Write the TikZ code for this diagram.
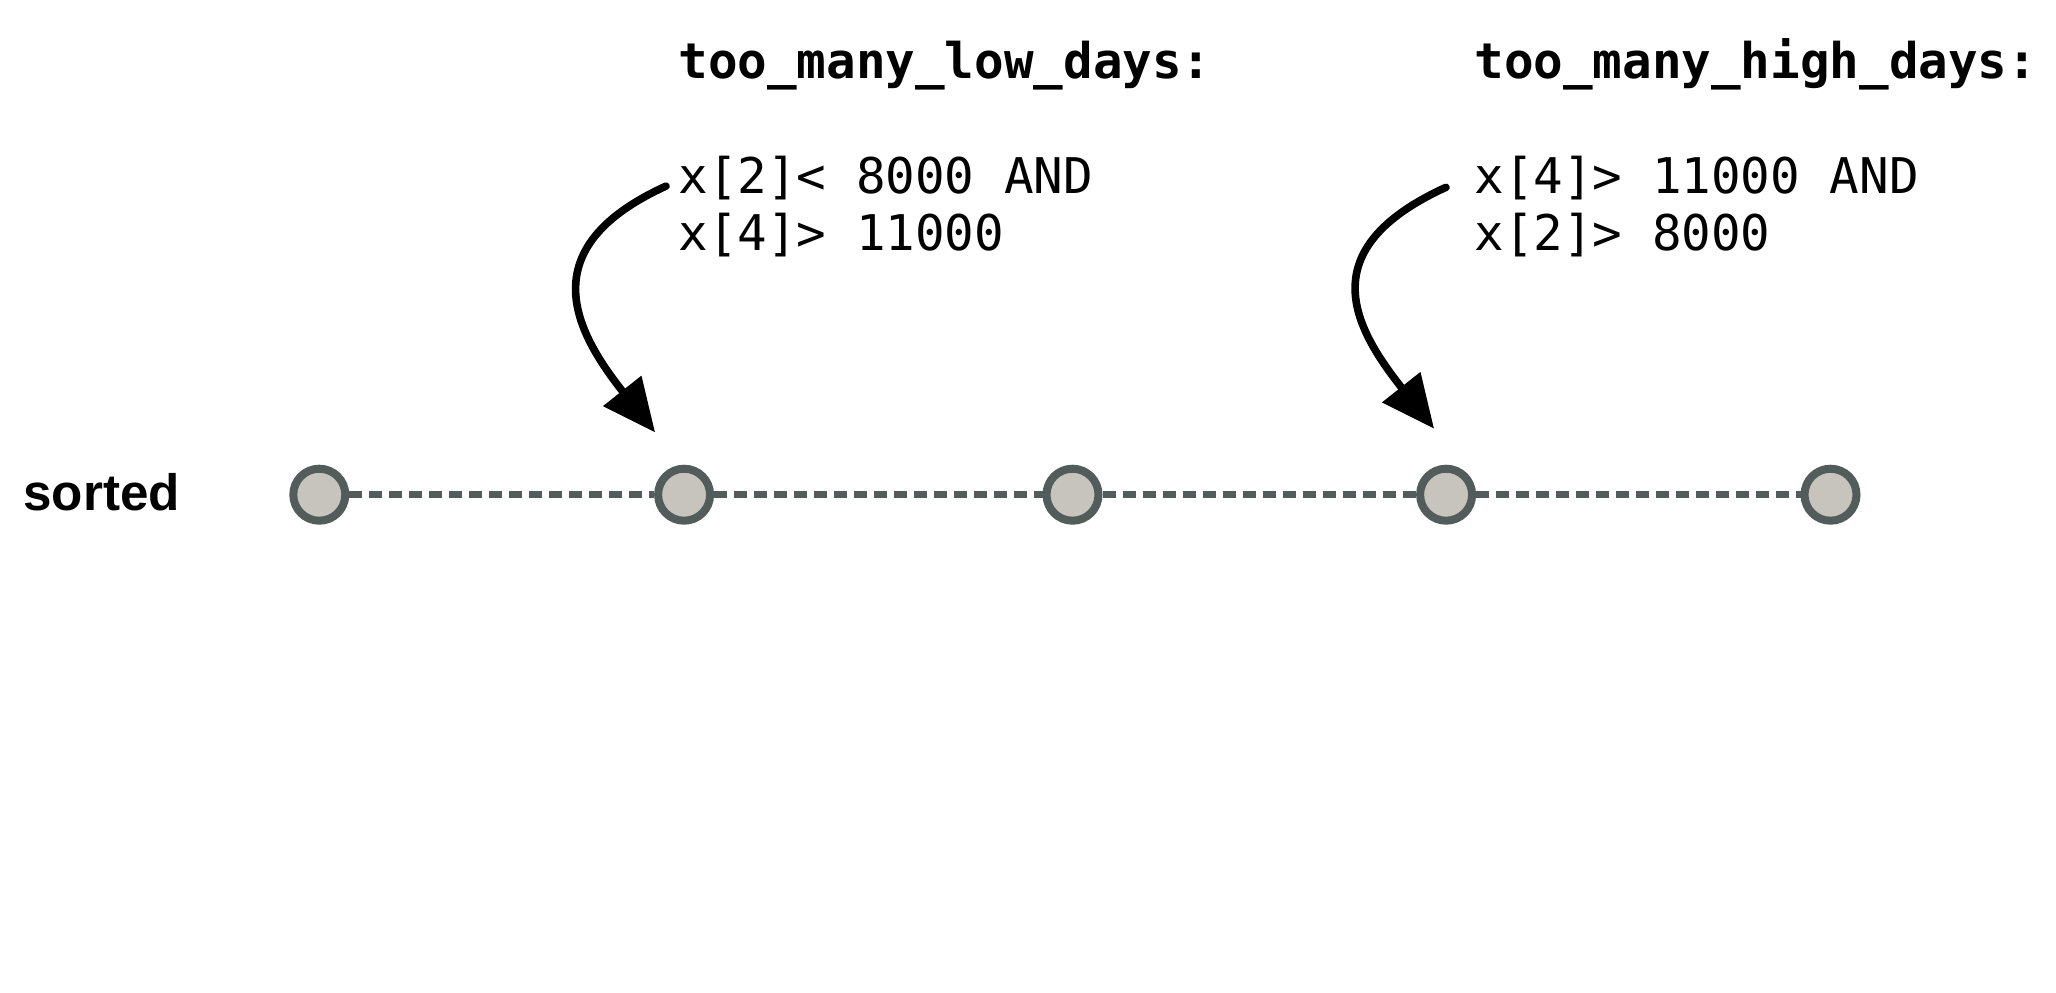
\documentclass[tikz,border=0pt]{standalone}
\usepackage{fontspec}
\setmonofont{DejaVu Sans Mono}
\setsansfont{Liberation Sans}
\usepackage{xcolor}
\definecolor{dotgray}{RGB}{82,92,91}
\definecolor{dotfill}{RGB}{199,196,189}
\usetikzlibrary{arrows.meta, positioning}

\begin{document}
\begin{tikzpicture}[
    x=0.5pt, y=-0.5pt,
    datapt/.style={draw=dotgray, fill=dotfill, circle, line width=4pt, minimum size=26pt, inner sep=0pt},
    sortline/.style={draw=dotgray, line width=3.7pt, dash pattern=on 6.5pt off 3.5pt},
    ruletitle/.style={anchor=base west, inner sep=0pt, font=\ttfamily\bfseries\fontsize{24.6pt}{28.7pt}\selectfont},
    rulecond/.style={anchor=base west, inner sep=0pt, align=left, font=\ttfamily\fontsize{24.6pt}{28.7pt}\selectfont},
    arrow/.style={line width=3.8pt, line cap=round, -{Triangle[length=26.5pt, width=23.5pt]}}
]
\useasboundingbox (0,0) rectangle (2056,992);

% the sorted row
\node (sorted) [anchor=base west, inner sep=0pt, font=\sffamily\bfseries\fontsize{25.6pt}{30pt}\selectfont] at (23,510) {sorted};
\node (n1) [datapt] at (319.3,494.7) {};
\node (n2) [datapt, right=152.4pt of n1] {};
\node (n3) [datapt, right=164.2pt of n2] {};
\node (n4) [datapt, right=156.8pt of n3] {};
\node (n5) [datapt, right=162.2pt of n4] {};

\draw[sortline] (n1) -- (n2);
\draw[sortline] (n2) -- (n3);
\draw[sortline] (n3) -- (n4);
\draw[sortline] (n4) -- (n5);

% rules
\node (lowtitle) [ruletitle] at (678,78.5) {too\_many\_low\_days:};
\node (lowcond) [rulecond] at ([yshift=-86.1pt]lowtitle.base west) {x[2]< 8000 AND\\x[4]> 11000};
\node (hightitle) [ruletitle] at (1474,78.5) {too\_many\_high\_days:};
\node (highcond) [rulecond] at ([yshift=-86.1pt]hightitle.base west) {x[4]> 11000 AND\\x[2]> 8000};

\coordinate (lowtip) at ([xshift=-14.5pt, yshift=31.15pt]n2.center);
\coordinate (hightip) at ([xshift=-6pt, yshift=33pt]n4.center);

\draw[arrow] ([xshift=-6pt, yshift=32.3pt]lowcond.base west) .. controls +(-136,62) and +(-80,-101) .. (lowtip);
\draw[arrow] ([xshift=-14pt, yshift=31.7pt]highcond.base west) .. controls +(-136,62) and +(-80,-101) .. (hightip);
\end{tikzpicture}
\end{document}
